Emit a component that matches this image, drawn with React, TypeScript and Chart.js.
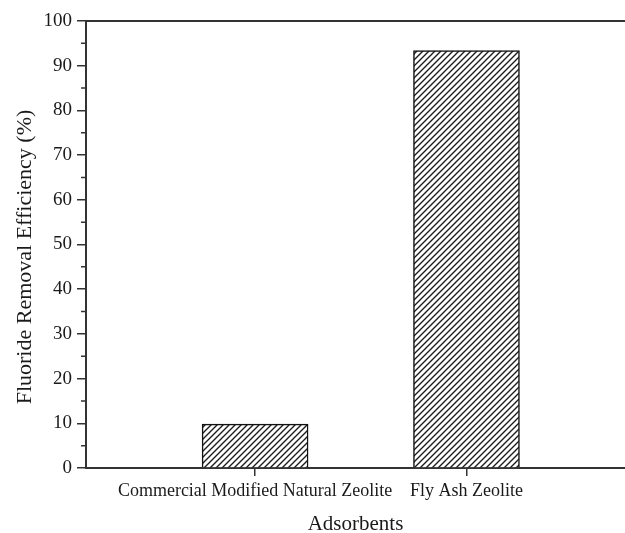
import React, { useEffect, useRef } from "react";
import { Chart, registerables } from "chart.js";

Chart.register(...registerables);

const categories = ["Commercial Modified Natural Zeolite", "Fly Ash Zeolite"];
const positions = [1, 2];
const values = [9.8, 93.4];
const minorTicks = [5, 15, 25, 35, 45, 55, 65, 75, 85, 95];
const yTitle = "Fluoride Removal Efficiency (%)";
const xTitle = "Adsorbents";

const FONT = '"Liberation Serif", "Times New Roman", serif';
const INK = "#1a1a1a";

function makeHatch(): CanvasPattern | string {
  const c = document.createElement("canvas");
  const s = 6;
  c.width = s;
  c.height = s;
  const g = c.getContext("2d");
  if (!g) return "#fff";
  g.fillStyle = "#fff";
  g.fillRect(0, 0, s, s);
  g.strokeStyle = "#1a1a1a";
  g.lineWidth = 1.35;
  g.beginPath();
  g.moveTo(-1, s + 1);
  g.lineTo(s + 1, -1);
  g.moveTo(-1, 1);
  g.lineTo(1, -1);
  g.moveTo(s - 1, s + 1);
  g.lineTo(s + 1, s - 1);
  g.stroke();
  const p = g.createPattern(c, "repeat");
  return p || "#fff";
}

const framePlugin = {
  id: "frame",
  afterDraw(chart: any) {
    const { ctx, chartArea } = chart;
    const y = chart.scales.y;
    ctx.save();
    // top border
    ctx.strokeStyle = "#333";
    ctx.lineWidth = 2;
    ctx.beginPath();
    ctx.moveTo(chartArea.left, chartArea.top);
    ctx.lineTo(chartArea.right, chartArea.top);
    ctx.stroke();
    // minor ticks
    ctx.lineWidth = 1.5;
    ctx.beginPath();
    for (const v of minorTicks) {
      const py = y.getPixelForValue(v);
      ctx.moveTo(chartArea.left - 5, py);
      ctx.lineTo(chartArea.left, py);
    }
    ctx.stroke();
    // y title
    ctx.fillStyle = INK;
    ctx.font = "22px " + FONT;
    ctx.textAlign = "center";
    ctx.textBaseline = "alphabetic";
    ctx.translate(31, (chartArea.top + chartArea.bottom) / 2 + 12.5);
    ctx.rotate(-Math.PI / 2);
    ctx.fillText(yTitle, 0, 0);
    ctx.restore();
  },
};

export default function App() {
  const ref = useRef<HTMLCanvasElement | null>(null);

  useEffect(() => {
    if (!ref.current) return;
    const hatch = makeHatch();
    const chart = new Chart(ref.current, {
      type: "bar",
      data: {
        datasets: [
          {
            data: positions.map((x, i) => ({ x, y: values[i] })),
            backgroundColor: hatch as any,
            borderColor: "#111",
            borderWidth: 1.5,
            barThickness: 106,
          },
        ],
      },
      options: {
        animation: false,
        responsive: true,
        maintainAspectRatio: false,
        layout: { padding: { top: 21, right: 0, left: 0, bottom: 0 } },
        plugins: {
          legend: { display: false },
          tooltip: { enabled: false },
        },
        scales: {
          x: {
            type: "linear",
            offset: false,
            min: 0.2,
            max: 2.75,
            afterBuildTicks: (scale: any) => {
              scale.ticks = positions.map((v) => ({ value: v }));
            },
            afterFit: (scale: any) => {
              scale.height = 65;
            },
            ticks: {
              autoSkip: false,
              maxRotation: 0,
              padding: 4,
              color: INK,
              font: { family: FONT, size: 18 },
              callback: (v: any) => categories[positions.indexOf(Number(v))] ?? "",
            },
            grid: {
              offset: false,
              drawOnChartArea: false,
              tickLength: 8,
              color: "#333",
              lineWidth: 1.5,
            },
            border: { color: "#333", width: 2 },
            title: {
              display: true,
              text: xTitle,
              color: INK,
              font: { family: FONT, size: 21 },
              padding: { top: 0, bottom: -4 },
            },
          },
          y: {
            min: 0,
            max: 100,
            afterFit: (scale: any) => {
              scale.width = 86;
            },
            ticks: {
              stepSize: 10,
              padding: 5,
              color: INK,
              font: { family: FONT, size: 19 },
            },
            grid: {
              drawOnChartArea: false,
              tickLength: 9,
              color: "#333",
              lineWidth: 1.5,
            },
            border: { color: "#333", width: 2 },
          },
        },
      },
      plugins: [framePlugin],
    });
    return () => chart.destroy();
  }, []);

  return (
    <div style={{ position: "absolute", left: 0, top: 0, width: 625, height: 533, background: "#fff" }}>
      <canvas ref={ref} />
    </div>
  );
}
